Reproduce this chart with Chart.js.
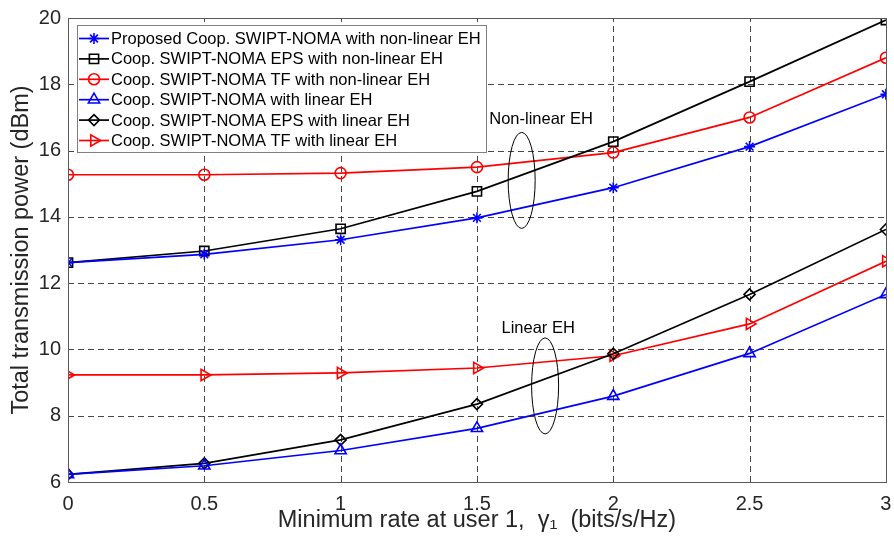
<!DOCTYPE html>
<html>
<head>
<meta charset="utf-8">
<script src="https://cdn.jsdelivr.net/npm/chart.js@4/dist/chart.umd.min.js"></script>
<style>
  html, body { margin: 0; padding: 0; background: #fff; }
  #wrap { width: 894px; height: 542px; }
</style>
</head>
<body>
<div id="wrap"><canvas id="powerChart" width="894" height="542"></canvas></div>
<script>
// minimum rate at user 1 (bits/s/Hz)
const rates = [0, 0.5, 1, 1.5, 2, 2.5, 3]

// total transmission power (dBm)
const proposedNonLinear = [12.62, 12.87, 13.31, 13.97, 14.88, 16.12, 17.70]
const epsNonLinear      = [12.62, 12.97, 13.64, 14.77, 16.27, 18.08, 19.94]
const tfNonLinear       = [15.27, 15.27, 15.32, 15.50, 15.94, 17.00, 18.80]
const proposedLinear    = [6.23, 6.49, 6.95, 7.62, 8.59, 9.88, 11.66]
const epsLinear         = [6.23, 6.56, 7.27, 8.35, 9.87, 11.66, 13.62]
const tfLinear          = [9.23, 9.23, 9.29, 9.44, 9.81, 10.77, 12.66]

const seriesLabels = [
    'Proposed Coop. SWIPT-NOMA with non-linear EH',
    'Coop. SWIPT-NOMA EPS with non-linear EH',
    'Coop. SWIPT-NOMA TF with non-linear EH',
    'Coop. SWIPT-NOMA with linear EH',
    'Coop. SWIPT-NOMA EPS with linear EH',
    'Coop. SWIPT-NOMA TF with linear EH'
]

// annotation groups: [label, label x, label y, ellipse x, ellipse y]
const groupNotes = [
    ['Non-linear EH', 1.545, 16.93, 1.664, 15.1],
    ['Linear EH', 1.59, 10.64, 1.75, 8.9]
]

const FONT = '"Liberation Sans", Arial, Helvetica, sans-serif'

function toPoints(vals) {
    return rates.map((r, i) => ({ x: r, y: vals[i] }))
}

function series(label, vals, color, style, radius, rotation) {
    return {
        label: label,
        data: toPoints(vals),
        borderColor: color,
        backgroundColor: color,
        borderWidth: 1.7,
        pointStyle: style,
        pointRadius: radius,
        pointRotation: rotation || 0,
        pointBorderColor: color,
        pointBackgroundColor: 'rgba(0,0,0,0)',
        pointBorderWidth: 1.6,
        fill: false,
        tension: 0
    }
}

const datasets = [
    series(seriesLabels[0], proposedNonLinear, '#0000ff', 'star', 5.5),
    series(seriesLabels[1], epsNonLinear, '#000000', 'rect', 6.5),
    series(seriesLabels[2], tfNonLinear, '#ff0000', 'circle', 5.5),
    series(seriesLabels[3], proposedLinear, '#0000ff', 'triangle', 6.5),
    series(seriesLabels[4], epsLinear, '#000000', 'rectRot', 5.5),
    series(seriesLabels[5], tfLinear, '#ff0000', 'triangle', 6.5, 90)
]

function drawMarker(ctx, ds, x, y) {
    if (Chart.helpers && Chart.helpers.drawPoint) {
        ctx.save()
        ctx.strokeStyle = ds.pointBorderColor
        ctx.fillStyle = 'rgba(0,0,0,0)'
        ctx.lineWidth = ds.pointBorderWidth
        Chart.helpers.drawPoint(ctx, {
            pointStyle: ds.pointStyle,
            radius: ds.pointRadius,
            rotation: ds.pointRotation,
            borderWidth: ds.pointBorderWidth
        }, x, y)
        ctx.restore()
    }
}

// dashed grid under the lines
const dashedGrid = {
    id: 'dashedGrid',
    beforeDatasetsDraw(chart) {
        const ctx = chart.ctx
        const a = chart.chartArea
        const xs = chart.scales.x
        const ys = chart.scales.y
        ctx.save()
        ctx.strokeStyle = 'rgba(0,0,0,0.72)'
        ctx.lineWidth = 1
        ctx.setLineDash([6, 4])
        xs.ticks.forEach(t => {
            const px = Math.round(xs.getPixelForValue(t.value)) + 0.5
            ctx.beginPath()
            ctx.moveTo(px, a.bottom)
            ctx.lineTo(px, a.top)
            ctx.stroke()
        })
        ys.ticks.forEach(t => {
            const py = Math.round(ys.getPixelForValue(t.value)) + 0.5
            ctx.beginPath()
            ctx.moveTo(a.left, py)
            ctx.lineTo(a.right, py)
            ctx.stroke()
        })
        ctx.restore()
    }
}

// box round the axes, legend inside the plot, group notes with ellipses
const extras = {
    id: 'extras',
    afterDatasetsDraw(chart) {
        const ctx = chart.ctx
        const a = chart.chartArea
        const xs = chart.scales.x
        const ys = chart.scales.y

        ctx.save()
        ctx.strokeStyle = '#5a5a5a'
        ctx.lineWidth = 1
        ctx.strokeRect(Math.round(a.left) + 0.5, Math.round(a.top) + 0.5,
            Math.round(a.right - a.left), Math.round(a.bottom - a.top))

        // group notes
        ctx.font = '16.5px ' + FONT
        ctx.fillStyle = '#000'
        ctx.textBaseline = 'middle'
        ctx.textAlign = 'left'
        groupNotes.forEach(n => {
            ctx.fillText(n[0], xs.getPixelForValue(n[1]), ys.getPixelForValue(n[2]))
            const cx = xs.getPixelForValue(n[3])
            const cy = ys.getPixelForValue(n[4])
            ctx.beginPath()
            ctx.ellipse(cx, cy, 13.5, 48, 0, 0, Math.PI * 2)
            ctx.strokeStyle = '#000'
            ctx.lineWidth = 1
            ctx.stroke()
        })

        // legend
        const lx = 77, ly = 25, lw = 409, lh = 127
        ctx.fillStyle = '#fff'
        ctx.fillRect(lx, ly, lw, lh)
        ctx.strokeStyle = '#7f7f7f'
        ctx.lineWidth = 1
        ctx.strokeRect(lx + 0.5, ly + 0.5, lw, lh)
        ctx.font = '16.5px ' + FONT
        ctx.textBaseline = 'middle'
        chart.data.datasets.forEach((ds, i) => {
            const y = 38.5 + i * 20.4
            ctx.strokeStyle = ds.borderColor
            ctx.lineWidth = ds.borderWidth
            ctx.beginPath()
            ctx.moveTo(79, y)
            ctx.lineTo(109, y)
            ctx.stroke()
            drawMarker(ctx, ds, 94, y)
            ctx.fillStyle = '#000'
            ctx.fillText(ds.label, 111, y + 1)
        })
        ctx.restore()
    }
}

new Chart(document.getElementById('powerChart'), {
    type: 'line',
    data: { datasets: datasets },
    plugins: [dashedGrid, extras],
    options: {
        responsive: false,
        animation: false,
        layout: { padding: { top: 18, right: 6, left: 0, bottom: 0 } },
        plugins: {
            legend: { display: false },
            tooltip: { enabled: false }
        },
        scales: {
            x: {
                type: 'linear',
                min: 0,
                max: 3,
                afterFit: s => { s.height = 60; s.paddingLeft = 0; s.paddingRight = 0 },
                ticks: {
                    stepSize: 0.5,
                    color: '#262626',
                    font: { family: FONT, size: 20 },
                    padding: 10,
                    callback: v => String(v)
                },
                grid: { display: false, drawTicks: false },
                border: { display: false },
                title: {
                    display: true,
                    text: 'Minimum rate at user 1,  γ\u2081  (bits/s/Hz)',
                    color: '#262626',
                    font: { family: FONT, size: 23.5 },
                    padding: { top: 0, bottom: 7 }
                }
            },
            y: {
                min: 6,
                max: 20,
                afterFit: s => { s.width = 68; s.paddingTop = 0; s.paddingBottom = 0 },
                ticks: {
                    stepSize: 2,
                    color: '#262626',
                    font: { family: FONT, size: 20 },
                    padding: 7
                },
                grid: { display: false, drawTicks: false },
                border: { display: false },
                title: {
                    display: true,
                    text: 'Total transmission power (dBm)',
                    color: '#262626',
                    font: { family: FONT, size: 23.5 },
                    padding: { top: 7, bottom: 0 }
                }
            }
        }
    }
});
</script>
</body>
</html>
